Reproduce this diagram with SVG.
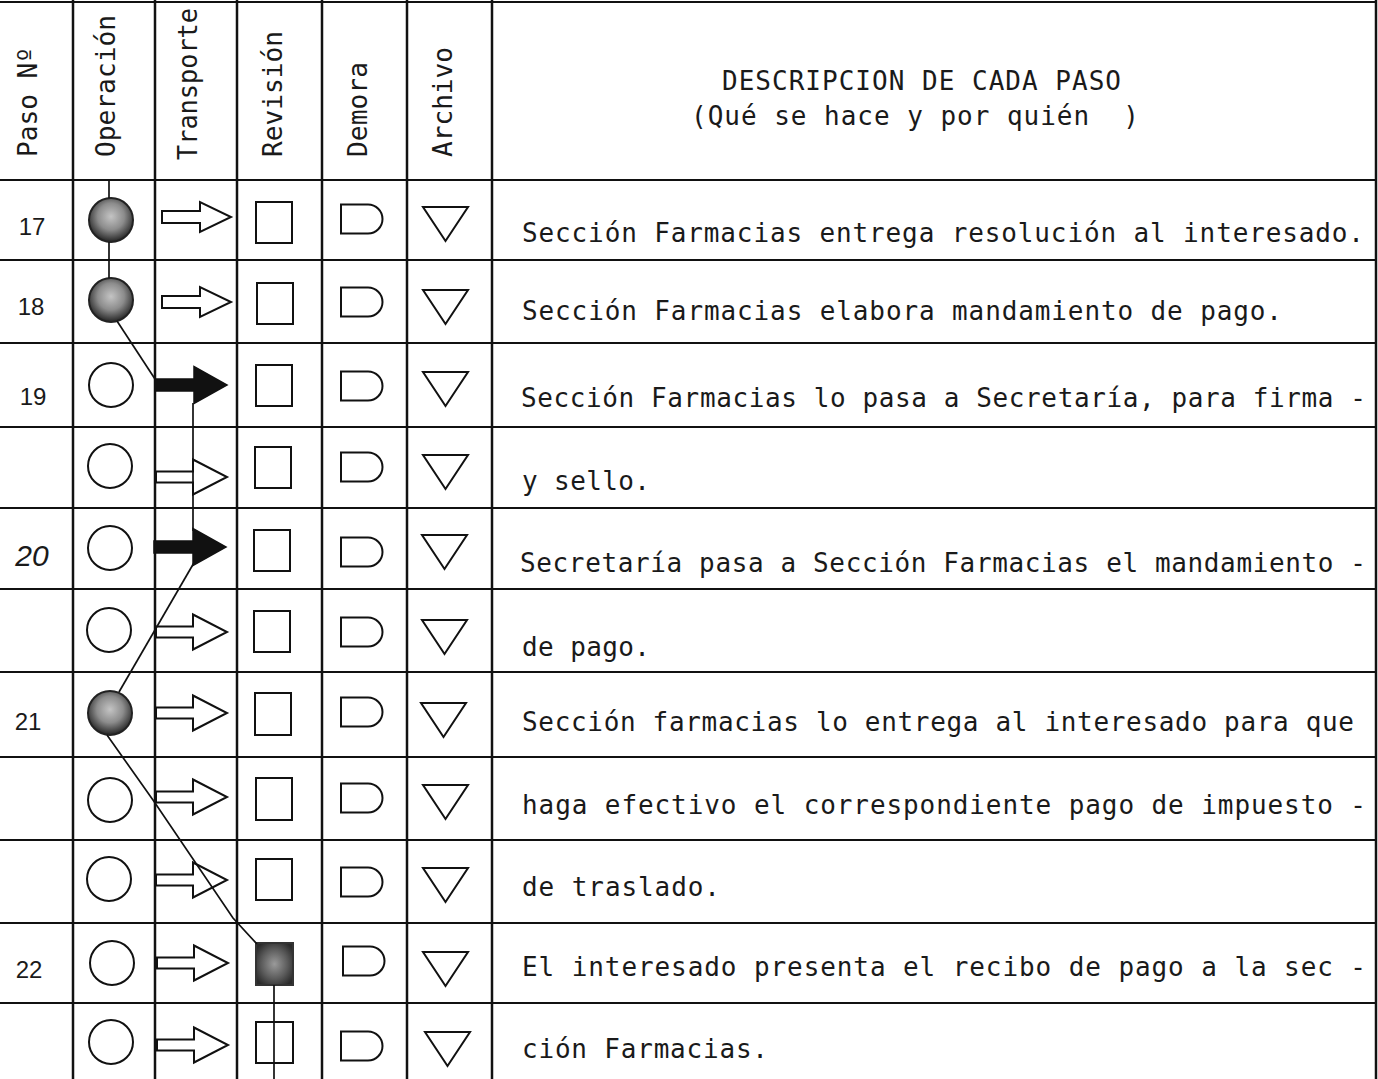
<svg xmlns="http://www.w3.org/2000/svg" xmlns:xlink="http://www.w3.org/1999/xlink" width="1378" height="1079" viewBox="0 0 1378 1079">
<style>
.grid line{stroke:#111;stroke-width:2.5}
.grid .h{stroke-width:2}
.sym{fill:#fff;stroke:#111;stroke-width:2}
.blk{fill:#111;stroke:#111;stroke-width:1.5}
.filled{fill:url(#mottle);stroke:#222;stroke-width:2}
.fsq{fill:url(#mottleSq);stroke:#333;stroke-width:2}
.conn{fill:none;stroke:#111;stroke-width:1.7}
.mono{font-family:"DejaVu Sans Mono","Liberation Mono",monospace;font-size:26px;fill:#1a1a1a}
.hdr{font-family:"DejaVu Sans Mono","Liberation Mono",monospace;font-size:27px;fill:#1a1a1a}
.num{font-family:"Liberation Sans",Arial,sans-serif;font-size:24px;fill:#1a1a1a;text-anchor:middle}
.hand{font-family:"Liberation Sans",Arial,sans-serif;font-size:30px;font-style:italic;fill:#1a1a1a;text-anchor:middle}
</style>
<defs>
<radialGradient id="mottle" cx="50%" cy="42%" r="55%">
<stop offset="0" stop-color="#c4c4c4"/>
<stop offset="0.55" stop-color="#8c8c8c"/>
<stop offset="1" stop-color="#2e2e2e"/>
</radialGradient>
<radialGradient id="mottleSq" cx="50%" cy="50%" r="60%">
<stop offset="0" stop-color="#9a9a9a"/>
<stop offset="0.6" stop-color="#5a5a5a"/>
<stop offset="1" stop-color="#2a2a2a"/>
</radialGradient>
<path id="arrA" d="M0,-6 H38 V-15 L69,0 L38,15 V6 H0 Z"/>
<path id="arrB" d="M0,-5.5 H37 V-17.5 L71,0 L37,17.5 V5.5 H0 Z"/>
<path id="arrK" d="M0,-6 H39 V-18.5 L72,0 L39,18.5 V6 H0 Z"/>
<path id="dem" d="M0,-14.5 H27 A14.5,14.5 0 0 1 27,14.5 H0 Z"/>
<path id="tri" d="M0,0 H45 L22.5,34 Z"/>
</defs>
<rect width="1378" height="1079" fill="#fff"/>

<g class="grid" id="grid">
<line class="h" x1="0" y1="2" x2="1377" y2="2"/>
<line class="h" x1="0" y1="180" x2="1377" y2="180"/>
<line class="h" x1="0" y1="260" x2="1377" y2="260"/>
<line class="h" x1="0" y1="343" x2="1377" y2="343"/>
<line class="h" x1="0" y1="427" x2="1377" y2="427"/>
<line class="h" x1="0" y1="508" x2="1377" y2="508"/>
<line class="h" x1="0" y1="589" x2="1377" y2="589"/>
<line class="h" x1="0" y1="672" x2="1377" y2="672"/>
<line class="h" x1="0" y1="757" x2="1377" y2="757"/>
<line class="h" x1="0" y1="840" x2="1377" y2="840"/>
<line class="h" x1="0" y1="923" x2="1377" y2="923"/>
<line class="h" x1="0" y1="1003" x2="1377" y2="1003"/>
<line x1="73" y1="0" x2="73" y2="1079"/>
<line x1="155" y1="0" x2="155" y2="1079"/>
<line x1="237" y1="0" x2="237" y2="1079"/>
<line x1="322" y1="0" x2="322" y2="1079"/>
<line x1="407" y1="0" x2="407" y2="1079"/>
<line x1="492" y1="0" x2="492" y2="1079"/>
<line x1="1376" y1="0" x2="1376" y2="1079"/>
</g>

<g id="header">
<text class="hdr" transform="translate(37,157) rotate(-90)" textLength="110" lengthAdjust="spacingAndGlyphs">Paso Nº</text>
<text class="hdr" transform="translate(115,157) rotate(-90)" textLength="142" lengthAdjust="spacingAndGlyphs">Operación</text>
<text class="hdr" transform="translate(197,160) rotate(-90)" textLength="152" lengthAdjust="spacingAndGlyphs">Transporte</text>
<text class="hdr" transform="translate(282,157) rotate(-90)" textLength="126" lengthAdjust="spacingAndGlyphs">Revisión</text>
<text class="hdr" transform="translate(367,157) rotate(-90)" textLength="95" lengthAdjust="spacingAndGlyphs">Demora</text>
<text class="hdr" transform="translate(452,157) rotate(-90)" textLength="110" lengthAdjust="spacingAndGlyphs">Archivo</text>
<text class="mono" x="722" y="90" textLength="399">DESCRIPCION DE CADA PASO</text>
<text class="mono" x="691" y="125" textLength="448" xml:space="preserve">(Qué se hace y por quién  )</text>
</g>

<g id="row-17">
<text class="num" x="32" y="235">17</text>
<circle class="filled" cx="111" cy="220" r="22"/>
<use href="#arrA" class="sym" transform="translate(162,217)"/>
<rect class="sym" x="256" y="202" width="36" height="41"/>
<use href="#dem" class="sym" transform="translate(341,219)"/>
<use href="#tri" class="sym" transform="translate(423,207)"/>
<text class="mono" x="522" y="242" textLength="842">Sección Farmacias entrega resolución al interesado.</text>
</g>

<g id="row-18">
<text class="num" x="31" y="315">18</text>
<circle class="filled" cx="111" cy="300" r="22"/>
<use href="#arrA" class="sym" transform="translate(162,302)"/>
<rect class="sym" x="257" y="283" width="36" height="41"/>
<use href="#dem" class="sym" transform="translate(341,302)"/>
<use href="#tri" class="sym" transform="translate(423,290)"/>
<text class="mono" x="522" y="320" textLength="760">Sección Farmacias elabora mandamiento de pago.</text>
</g>

<g id="row-19">
<text class="num" x="33" y="405">19</text>
<circle class="sym" cx="111" cy="385" r="22"/>
<use href="#arrK" class="blk" transform="translate(155,385)"/>
<rect class="sym" x="256" y="365" width="36" height="41"/>
<use href="#dem" class="sym" transform="translate(341,386)"/>
<use href="#tri" class="sym" transform="translate(423,372)"/>
<text class="mono" x="521" y="407" textLength="845">Sección Farmacias lo pasa a Secretaría, para firma -</text>
</g>

<g id="row-19b">
<circle class="sym" cx="110" cy="466" r="22"/>
<use href="#arrB" class="sym" transform="translate(156,477)"/>
<rect class="sym" x="255" y="447" width="36" height="41"/>
<use href="#dem" class="sym" transform="translate(341,467)"/>
<use href="#tri" class="sym" transform="translate(423,455)"/>
<text class="mono" x="522" y="490" textLength="128">y sello.</text>
</g>

<g id="row-20">
<text class="hand" x="32" y="566">20</text>
<circle class="sym" cx="110" cy="548" r="22"/>
<use href="#arrK" class="blk" transform="translate(154,547)"/>
<rect class="sym" x="254" y="530" width="36" height="41"/>
<use href="#dem" class="sym" transform="translate(341,552)"/>
<use href="#tri" class="sym" transform="translate(422,535)"/>
<text class="mono" x="520" y="572" textLength="846">Secretaría pasa a Sección Farmacias el mandamiento -</text>
</g>

<g id="row-20b">
<circle class="sym" cx="109" cy="630" r="22"/>
<use href="#arrB" class="sym" transform="translate(156,632)"/>
<rect class="sym" x="254" y="611" width="36" height="41"/>
<use href="#dem" class="sym" transform="translate(341,632)"/>
<use href="#tri" class="sym" transform="translate(422,620)"/>
<text class="mono" x="522" y="656" textLength="128">de pago.</text>
</g>

<g id="row-21">
<text class="num" x="28" y="730">21</text>
<circle class="filled" cx="110" cy="713" r="22"/>
<use href="#arrB" class="sym" transform="translate(156,713)"/>
<rect class="sym" x="255" y="693" width="36" height="42"/>
<use href="#dem" class="sym" transform="translate(341,712)"/>
<use href="#tri" class="sym" transform="translate(421,703)"/>
<text class="mono" x="522" y="731" textLength="832">Sección farmacias lo entrega al interesado para que</text>
</g>

<g id="row-21b">
<circle class="sym" cx="110" cy="800" r="22"/>
<use href="#arrB" class="sym" transform="translate(156,797)"/>
<rect class="sym" x="256" y="778" width="36" height="42"/>
<use href="#dem" class="sym" transform="translate(341,798)"/>
<use href="#tri" class="sym" transform="translate(423,785)"/>
<text class="mono" x="522" y="814" textLength="844">haga efectivo el correspondiente pago de impuesto -</text>
</g>

<g id="row-21c">
<circle class="sym" cx="109" cy="879" r="22"/>
<use href="#arrB" class="sym" transform="translate(156,880)"/>
<rect class="sym" x="256" y="859" width="36" height="41"/>
<use href="#dem" class="sym" transform="translate(341,882)"/>
<use href="#tri" class="sym" transform="translate(423,868)"/>
<text class="mono" x="522" y="896" textLength="198">de traslado.</text>
</g>

<g id="row-22">
<text class="num" x="29" y="978">22</text>
<circle class="sym" cx="112" cy="963" r="22"/>
<use href="#arrB" class="sym" transform="translate(157,963)"/>
<rect class="fsq" x="256" y="943" width="37" height="42"/>
<use href="#dem" class="sym" transform="translate(343,961)"/>
<use href="#tri" class="sym" transform="translate(423,952)"/>
<text class="mono" x="522" y="976" textLength="844">El interesado presenta el recibo de pago a la sec -</text>
</g>

<g id="row-22b">
<circle class="sym" cx="111" cy="1042" r="22"/>
<use href="#arrB" class="sym" transform="translate(157,1045)"/>
<rect class="sym" x="256" y="1022" width="37" height="41"/>
<use href="#dem" class="sym" transform="translate(341,1046)"/>
<use href="#tri" class="sym" transform="translate(425,1032)"/>
<text class="mono" x="522" y="1058" textLength="246">ción Farmacias.</text>
</g>

<g id="connectors">
<path class="conn" d="M109,181 V198"/>
<path class="conn" d="M109,242 V278"/>
<path class="conn" d="M117,321 L155,379"/>
<path class="conn" d="M193,403 V531"/>
<path class="conn" d="M195,561 L119,692"/>
<path class="conn" d="M107,735 L153,800 L233,918 L257,944"/>
<path class="conn" d="M274,985 V1079"/>
</g>
</svg>
